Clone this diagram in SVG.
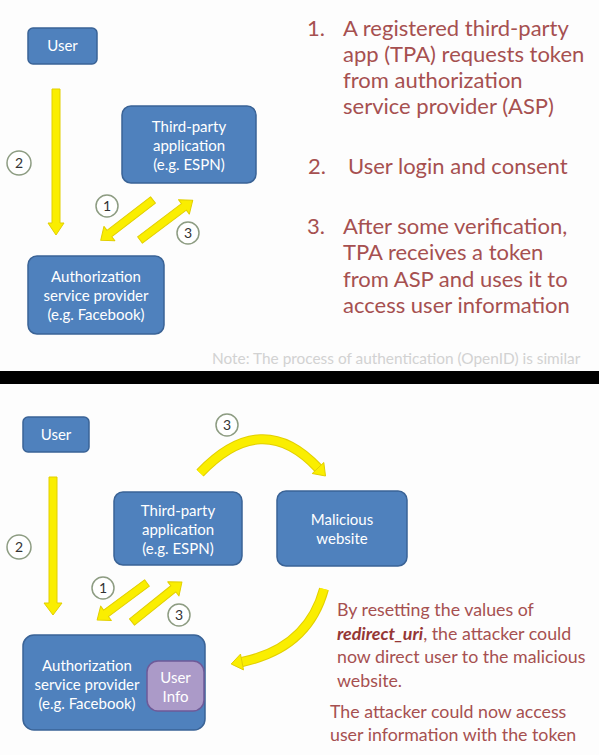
<svg xmlns="http://www.w3.org/2000/svg" width="599" height="755" viewBox="0 0 599 755">
<style>
  .box { fill: #4f81bd; stroke: #3a6396; stroke-width: 1.5; }
  .info { fill: #ab9ac8; stroke: #6e5a98; stroke-width: 1.5; }
  .nt { font-family: Lato, "Liberation Sans", sans-serif; font-size: 15px; fill: #ffffff; text-anchor: middle; }
  .arr { fill: #faee00; stroke: #e2cf00; stroke-width: 1; stroke-linejoin: round; }
  .curveO { fill: none; stroke: #e2cf00; stroke-width: 10; }
  .curveI { fill: none; stroke: #faee00; stroke-width: 8; }
  .num { fill: #ffffff; stroke: #8d9c82; stroke-width: 1.5; }
  .numt { font-family: Lato, "Liberation Sans", sans-serif; font-size: 14px; fill: #333333; text-anchor: middle; }
  .red { font-family: Lato, "Liberation Sans", sans-serif; font-size: 22px; fill: #a65050; }
  .red2 { font-family: Lato, "Liberation Sans", sans-serif; font-size: 17.8px; fill: #a65050; }
  .note { font-family: Lato, "Liberation Sans", sans-serif; font-size: 15.4px; fill: #d2d2d2; }
</style>
<rect x="0" y="0" width="599" height="755" fill="#fdfdfd"/>
<rect x="0" y="371" width="599" height="13" fill="#000000"/>

<!-- connectors -->
<g id="connectors">
  <!-- top panel -->
  <polygon class="arr" points="52,89 60,89 60,223 64,223 56,235 48,223 52,223"/>
  <polygon class="arr" transform="translate(153,200) rotate(142.4)" points="0,-4 55,-4 55,-9 66,0 55,9 55,4 0,4"/>
  <polygon class="arr" transform="translate(140,240) rotate(-37)" points="0,-4 55,-4 55,-9 66,0 55,9 55,4 0,4"/>
  <!-- bottom panel -->
  <polygon class="arr" points="49,477 57,477 57,603 62,603 53,615 44,603 49,603"/>
  <polygon class="arr" transform="translate(147,583) rotate(143.5)" points="0,-4 51,-4 51,-9 62,0 51,9 51,4 0,4"/>
  <polygon class="arr" transform="translate(132,622) rotate(-38.7)" points="0,-4 53,-4 53,-9 64,0 53,9 53,4 0,4"/>
  <path class="curveO" d="M 200 473 Q 262 408 318 468"/>
  <path class="curveI" d="M 200 473 Q 262 408 318 468"/>
  <polygon class="arr" points="323.8,462.5 325.5,476 312.2,473.5"/>
  <path class="curveO" d="M 324 589 Q 308 648 242 662"/>
  <path class="curveI" d="M 324 589 Q 308 648 242 662"/>
  <polygon class="arr" points="240.5,654.1 231.2,664 243.5,669.9"/>
</g>

<!-- step numbers -->
<g id="num-top-2"><circle class="num" cx="19" cy="163" r="12"/><text class="numt" x="19" y="168">2</text></g>
<g id="num-top-1"><circle class="num" cx="107" cy="206" r="11"/><text class="numt" x="107" y="211">1</text></g>
<g id="num-top-3"><circle class="num" cx="188" cy="233" r="11"/><text class="numt" x="188" y="238">3</text></g>
<g id="num-bot-2"><circle class="num" cx="19" cy="547" r="12"/><text class="numt" x="19" y="552">2</text></g>
<g id="num-bot-1"><circle class="num" cx="103" cy="588" r="11"/><text class="numt" x="103" y="593">1</text></g>
<g id="num-bot-3"><circle class="num" cx="179" cy="615" r="11"/><text class="numt" x="179" y="620">3</text></g>
<g id="num-bot-3b"><circle class="num" cx="227" cy="425" r="11"/><text class="numt" x="227" y="430">3</text></g>

<!-- top panel nodes -->
<g id="user-top">
  <rect class="box" x="28" y="28" width="69" height="36" rx="5"/>
  <text class="nt" x="62.5" y="51">User</text>
</g>
<g id="tpa-top">
  <rect class="box" x="122" y="106" width="134" height="77" rx="9"/>
  <text class="nt" x="189" y="132">Third-party</text>
  <text class="nt" x="189" y="151">application</text>
  <text class="nt" x="189" y="170">(e.g. ESPN)</text>
</g>
<g id="asp-top">
  <rect class="box" x="28" y="256" width="136" height="78" rx="9"/>
  <text class="nt" x="96" y="282">Authorization</text>
  <text class="nt" x="96" y="301">service provider</text>
  <text class="nt" x="96" y="320">(e.g. Facebook)</text>
</g>

<!-- top panel text -->
<g id="steps-text">
  <text class="red" x="307" y="36">1.</text>
  <text class="red" x="343" y="36">A registered third-party</text>
  <text class="red" x="343" y="62">app (TPA) requests token</text>
  <text class="red" x="343" y="88">from authorization</text>
  <text class="red" x="343" y="114">service provider (ASP)</text>
  <text class="red" x="308" y="174">2.</text>
  <text class="red" x="348" y="174">User login and consent</text>
  <text class="red" x="307" y="234">3.</text>
  <text class="red" x="343" y="234">After some verification,</text>
  <text class="red" x="343" y="260">TPA receives a token</text>
  <text class="red" x="343" y="287">from ASP and uses it to</text>
  <text class="red" x="343" y="313">access user information</text>
</g>
<text class="note" x="212" y="364">Note: The process of authentication (OpenID) is similar</text>

<!-- bottom panel nodes -->
<g id="user-bot">
  <rect class="box" x="23" y="417" width="66" height="35" rx="5"/>
  <text class="nt" x="56" y="440">User</text>
</g>
<g id="tpa-bot">
  <rect class="box" x="114" y="492" width="128" height="73" rx="9"/>
  <text class="nt" x="178" y="516">Third-party</text>
  <text class="nt" x="178" y="535">application</text>
  <text class="nt" x="178" y="554">(e.g. ESPN)</text>
</g>
<g id="malicious">
  <rect class="box" x="277" y="491" width="130" height="75" rx="9"/>
  <text class="nt" x="342" y="525">Malicious</text>
  <text class="nt" x="342" y="544">website</text>
</g>
<g id="asp-bot">
  <rect class="box" x="23" y="635" width="182" height="95" rx="11"/>
  <text class="nt" x="87" y="671">Authorization</text>
  <text class="nt" x="87" y="690">service provider</text>
  <text class="nt" x="87" y="709">(e.g. Facebook)</text>
</g>
<g id="user-info">
  <rect class="info" x="147" y="661" width="57" height="50" rx="11"/>
  <text class="nt" x="175.5" y="683">User</text>
  <text class="nt" x="175.5" y="702">Info</text>
</g>

<!-- bottom panel text -->
<g id="attack-text">
  <text class="red2" x="337" y="616">By resetting the values of</text>
  <text class="red2" x="337" y="640"><tspan font-weight="bold" font-style="italic" fill="#953735">redirect_uri</tspan>, the attacker could</text>
  <text class="red2" x="337" y="663">now direct user to the malicious</text>
  <text class="red2" x="337" y="687">website.</text>
  <text class="red2" x="330" y="718">The attacker could now access</text>
  <text class="red2" x="330" y="741">user information with the token</text>
</g>
</svg>
